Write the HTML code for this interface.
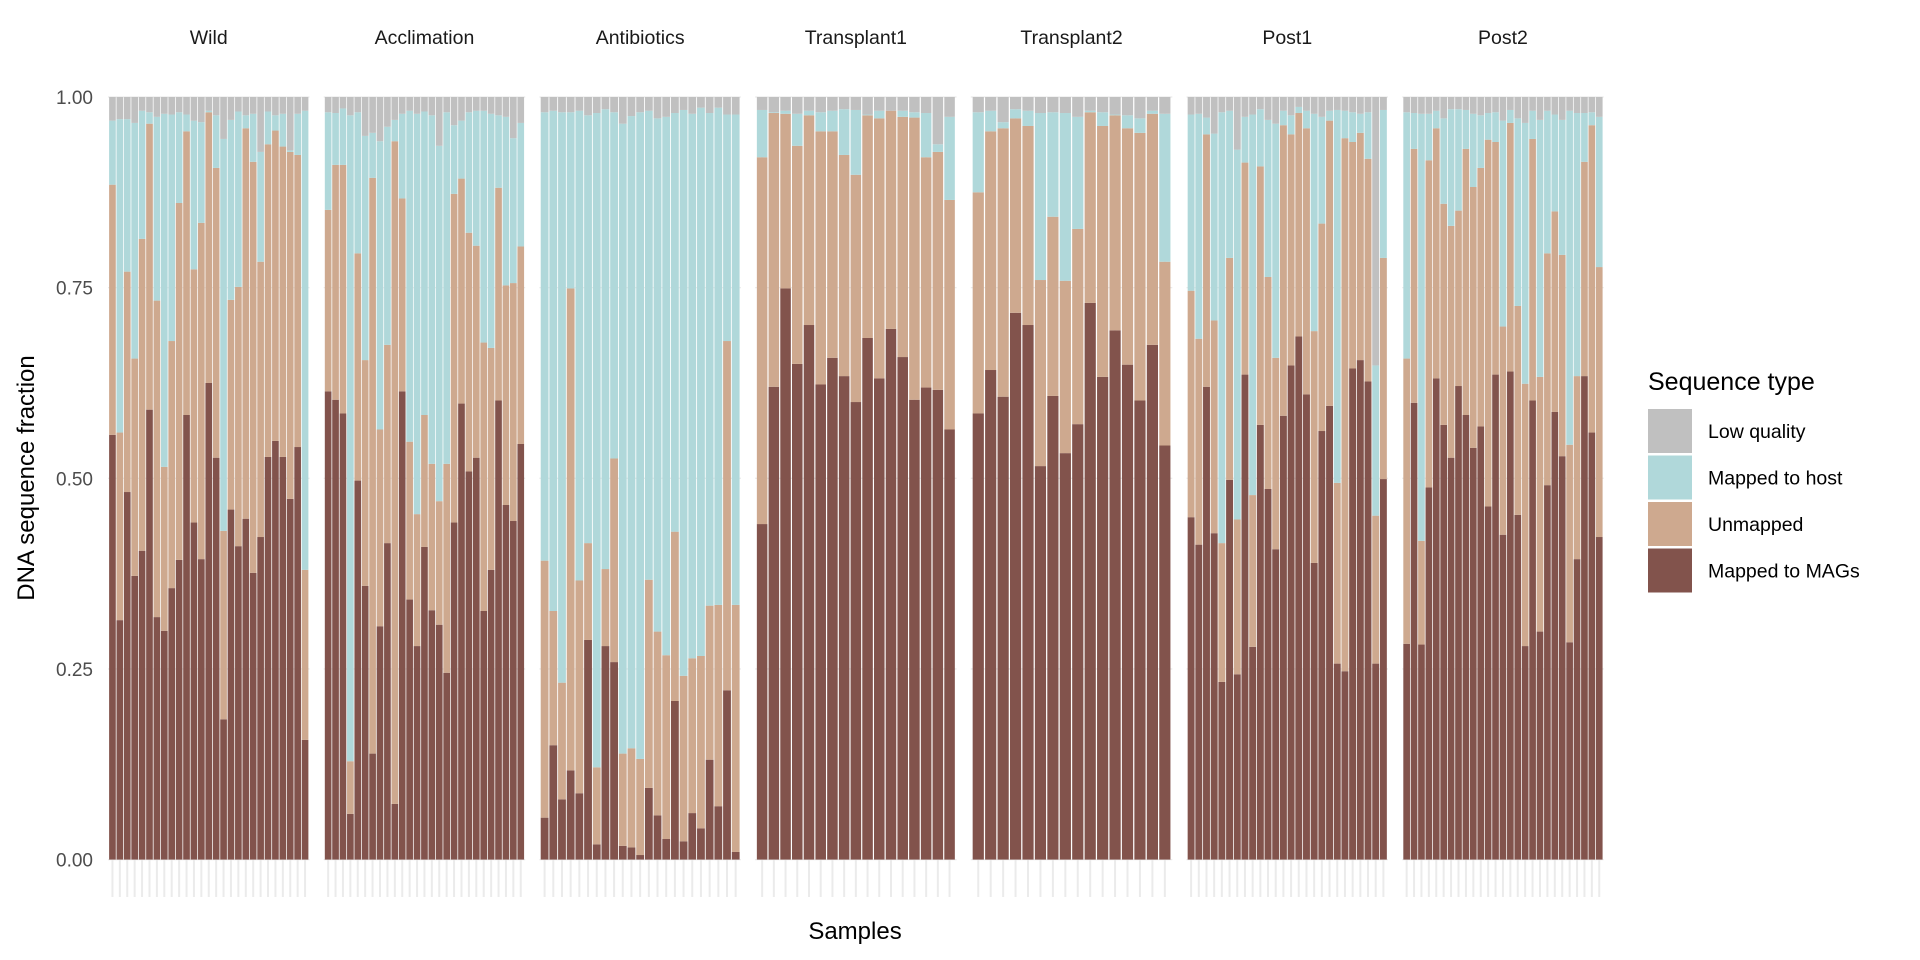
<!DOCTYPE html>
<html><head><meta charset="utf-8"><style>
html,body{margin:0;padding:0;background:#fff;}
svg{display:block;font-family:"Liberation Sans",Arial,sans-serif;}
</style></head><body>
<svg id="chart" width="1920" height="960" viewBox="0 0 1920 960" xmlns="http://www.w3.org/2000/svg">
<g id="grid"></g>
<g id="bars"></g>
<g id="strips"></g>
<g id="yaxis"></g>
<text x="0" y="0" transform="translate(34,478) rotate(-90)" text-anchor="middle" font-size="24" fill="#000">DNA sequence fraction</text>
<text x="855" y="939" text-anchor="middle" font-size="24" fill="#000">Samples</text>
<g id="legend">
<text x="1648" y="390" font-size="25" fill="#000">Sequence type</text>
</g>
</svg>
<script>
const panels = ["Wild","Acclimation","Antibiotics","Transplant1","Transplant2","Post1","Post2"];
const magWild = [.557,.314,.482,.372,.405,.590,.318,.300,.356,.393,.583,.442,.394,.625,.527,.184,.459,.411,.447,.376,.423,.528,.549,.528,.473,.541,.157];
const unmWild = [.328,.246,.289,.285,.409,.375,.415,.215,.324,.468,.372,.332,.441,.355,.380,.247,.275,.340,.512,.539,.361,.410,.407,.407,.455,.383,.223];
const hostWild = [.084,.411,.200,.309,.168,.015,.241,.463,.297,.119,.022,.195,.132,.002,.069,.514,.236,.230,.017,.063,.144,.043,.020,.043,.002,.054,.602];
const magAccl = [.614,.603,.585,.060,.497,.359,.139,.306,.415,.073,.614,.341,.280,.410,.327,.308,.245,.442,.598,.509,.527,.326,.380,.602,.465,.444,.545];
const unmAccl = [.238,.308,.326,.069,.298,.296,.755,.258,.260,.869,.253,.207,.173,.173,.192,.162,.274,.431,.295,.313,.278,.352,.291,.279,.288,.312,.259];
const hostAccl = [.128,.068,.074,.847,.185,.294,.059,.378,.286,.028,.111,.434,.525,.398,.457,.466,.461,.090,.076,.158,.177,.304,.307,.095,.221,.190,.162];
const magAnti = [.055,.150,.079,.117,.087,.288,.020,.280,.259,.018,.016,.006,.094,.058,.027,.208,.024,.061,.041,.131,.070,.222,.010];
const unmAnti = [.337,.176,.153,.632,.279,.127,.101,.101,.267,.121,.130,.126,.273,.241,.241,.222,.217,.203,.226,.202,.264,.458,.324];
const hostAnti = [.588,.656,.748,.231,.616,.561,.858,.603,.454,.826,.829,.848,.615,.673,.706,.549,.742,.714,.719,.646,.652,.297,.643];
const magT1 = [.440,.620,.749,.650,.701,.623,.658,.634,.600,.684,.631,.696,.659,.603,.619,.616,.564];
const unmT1 = [.481,.359,.229,.286,.275,.332,.297,.290,.298,.292,.341,.286,.315,.370,.302,.312,.301];
const hostT1 = [.062,.001,.004,.042,.006,.025,.027,.060,.085,.001,.010,0,.008,.007,.058,.010,.109];
const magT2 = [.585,.642,.607,.717,.701,.516,.608,.533,.571,.730,.633,.694,.649,.602,.675,.543];
const unmT2 = [.290,.313,.352,.255,.261,.244,.235,.226,.256,.250,.329,.282,.310,.351,.303,.241];
const hostT2 = [.105,.027,.008,.012,.020,.219,.137,.220,.147,.002,.018,.001,.017,.019,.004,.194];
const magP1 = [.449,.413,.620,.428,.233,.498,.243,.636,.279,.570,.486,.407,.582,.648,.686,.610,.389,.562,.595,.257,.247,.644,.655,.627,.257,.499];
const unmP1 = [.297,.270,.331,.279,.182,.291,.203,.278,.199,.339,.278,.251,.381,.303,.293,.349,.304,.272,.374,.237,.699,.297,.298,.292,.194,.290];
const hostP1 = [.231,.295,.022,.245,.565,.193,.485,.060,.499,.075,.206,.307,.019,.025,.008,.023,.285,.140,.013,.489,.036,.039,.025,.061,.197,.194];
const magP2 = [.283,.599,.282,.488,.631,.570,.527,.621,.583,.540,.568,.463,.636,.426,.640,.452,.280,.602,.299,.491,.587,.529,.285,.394,.634,.560,.423];
const unmP2 = [.374,.333,.136,.429,.328,.290,.304,.230,.349,.342,.339,.481,.305,.273,.326,.274,.344,.343,.334,.304,.263,.264,.259,.240,.281,.403,.354];
const hostP2 = [.323,.047,.560,.061,.023,.112,.153,.133,.051,.096,.069,.035,.039,.270,.017,.246,.342,.037,.337,.187,.127,.177,.438,.345,.064,.017,.197];
const seriesNames = ["Mapped to MAGs","Unmapped","Mapped to host","Low quality"];
const yTicks = [0,0.25,0.5,0.75,1];
const yTickLabels = ["0.00","0.25","0.50","0.75","1.00"];

const magAll = [magWild,magAccl,magAnti,magT1,magT2,magP1,magP2];
const unmAll = [unmWild,unmAccl,unmAnti,unmT1,unmT2,unmP1,unmP2];
const hostAll = [hostWild,hostAccl,hostAnti,hostT1,hostT2,hostP1,hostP2];
const colors = ["#82534c","#cea98f","#b0d8da","#c0c0c0"];
const NS="http://www.w3.org/2000/svg";
const Y0=859.6, Y1=97, PL=108, PSTEP=215.7, PW=201.5, GBOT=897;
function yScale(v){return Y0-(Y0-Y1)*v;}
function panelX(i){return PL+PSTEP*i;}
function mk(tag,attrs,parent){const e=document.createElementNS(NS,tag);for(const k in attrs)e.setAttribute(k,attrs[k]);parent.appendChild(e);return e;}
const grid=document.getElementById('grid'), bars=document.getElementById('bars'), strips=document.getElementById('strips'), yaxis=document.getElementById('yaxis'), legend=document.getElementById('legend');
panels.forEach((name,i)=>{
  const px=panelX(i), n=magAll[i].length, unit=PW/(n+0.2);
  yTicks.forEach(t=>{
    const l=mk('line',{x1:px,x2:px+PW,y1:yScale(t),y2:yScale(t),stroke:'#ebebeb','stroke-width':1.3},grid);
    
    
  });
  for(let j=0;j<n;j++){
    const cx=px+unit*(0.6+j);
    const l=mk('line',{x1:cx,x2:cx,y1:Y1,y2:GBOT,stroke:'#ebebeb','stroke-width':2},grid);
    
    
    const vals=[magAll[i][j],unmAll[i][j],hostAll[i][j]];
    vals.push(Math.max(0,1-vals[0]-vals[1]-vals[2]));
    let cum=0;
    vals.forEach((v,k)=>{
      const r=mk('rect',{x:cx-unit*0.45,width:unit*0.9,y:yScale(cum+v),height:Math.max(0,yScale(cum)-yScale(cum+v)),fill:colors[k]},bars);
      
      
      cum+=v;
    });
  }
  const s=mk('text',{x:px+PW/2,y:44,'text-anchor':'middle','font-size':19.5,fill:'#1a1a1a'},strips);
  s.textContent=name;
  
  
});
yTicks.forEach((t,k)=>{
  const tx=mk('text',{x:93,y:yScale(t)+7,'text-anchor':'end','font-size':19,fill:'#4d4d4d'},yaxis);
  tx.textContent=yTickLabels[k];
  
  
});
const legOrder=[3,2,1,0];
legOrder.forEach((k,r)=>{
  const y=409+r*46.5;
  const sw=mk('rect',{x:1648,y:y,width:44,height:44,fill:colors[k]},legend);
  
  
  const lt=mk('text',{x:1708,y:y+29,'font-size':19.5,fill:'#000'},legend);
  lt.textContent=seriesNames[k];
  
  
});
</script>
</body></html>
